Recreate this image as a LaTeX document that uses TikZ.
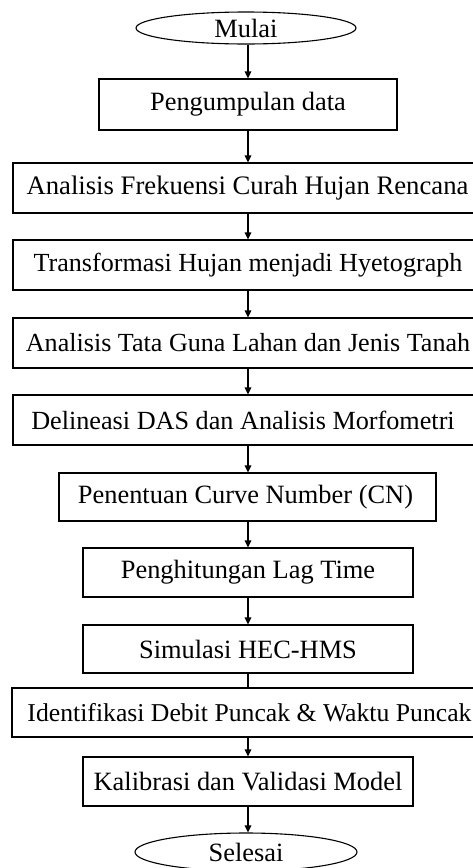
\documentclass[tikz,border=0pt]{standalone}
\usepackage{fontspec}
\setmainfont{Liberation Serif}
\usetikzlibrary{shapes.geometric,arrows.meta}
\begin{document}
\begin{tikzpicture}[x=1pt,y=-1pt,
  box/.style={draw, line width=1.1pt, rectangle, inner sep=0pt, font=\fontsize{26.4}{32}\selectfont},
  term/.style={draw, line width=1.1pt, ellipse, inner sep=0pt, font=\fontsize{26.4}{32}\selectfont},
  arr/.style={line width=1.1pt, -{Triangle[length=7pt,width=6.5pt]}},
  ln/.style={line width=1.1pt}]
\useasboundingbox (0,0) rectangle (473,868);
\clip (0,0) rectangle (473,868);
\node[term, minimum width=220pt, minimum height=32pt] (mulai) at (246,28) {Mulai};
\node[box, minimum width=298pt, minimum height=51pt] (b1) at (248,104.5) {Pengumpulan data};
\node[box, minimum width=470pt, minimum height=50pt, font=\fontsize{26.7}{32}\selectfont] (b2) at (248,188) {\hspace*{-1pt}Analisis Frekuensi Curah Hujan Rencana};
\node[box, minimum width=470pt, minimum height=50pt, font=\fontsize{26.1}{32}\selectfont] (b3) at (248,265) {Transformasi Hujan menjadi Hyetograph};
\node[box, minimum width=470pt, minimum height=50pt, font=\fontsize{26.1}{32}\selectfont] (b4) at (248,343) {Analisis Tata Guna Lahan dan Jenis Tanah};
\node[box, minimum width=470pt, minimum height=50pt, font=\fontsize{26.2}{32}\selectfont] (b5) at (248,420) {\hspace*{-10pt}Delineasi DAS dan Analisis Morfometri};
\node[box, minimum width=377pt, minimum height=48pt] (b6) at (247.5,497) {\hspace*{-4pt}Penentuan Curve Number (CN)};
\node[box, minimum width=330pt, minimum height=49pt] (b7) at (248,572.5) {Penghitungan Lag Time};
\node[box, minimum width=330pt, minimum height=48pt] (b8) at (248,649) {Simulasi HEC-HMS};
\node[box, minimum width=472pt, minimum height=49pt, font=\fontsize{25.7}{32}\selectfont] (b9) at (248,712.5) {Identifikasi Debit Puncak \& Waktu Puncak\hspace*{-3pt}};
\node[box, minimum width=330pt, minimum height=49pt] (b10) at (248,781.5) {Kalibrasi dan Validasi Model};
\node[term, minimum width=222pt, minimum height=38pt] (selesai) at (246,852) {Selesai};
\draw[arr] (mulai.south -| b1.north) -- (b1.north);
\draw[arr] (b1) -- (b2);
\draw[arr] (b2) -- (b3);
\draw[arr] (b3) -- (b4);
\draw[arr] (b4) -- (b5);
\draw[arr] (b5) -- (b6.north -| b5.south);
\draw[arr] (b6.south -| b7.north) -- (b7);
\draw[arr] (b7) -- (b8);
\draw[ln] (b8) -- (b9);
\draw[arr] (b9) -- (b10);
\draw[arr] (b10.south) -- (b10.south |- selesai.north);
\end{tikzpicture}
\end{document}
